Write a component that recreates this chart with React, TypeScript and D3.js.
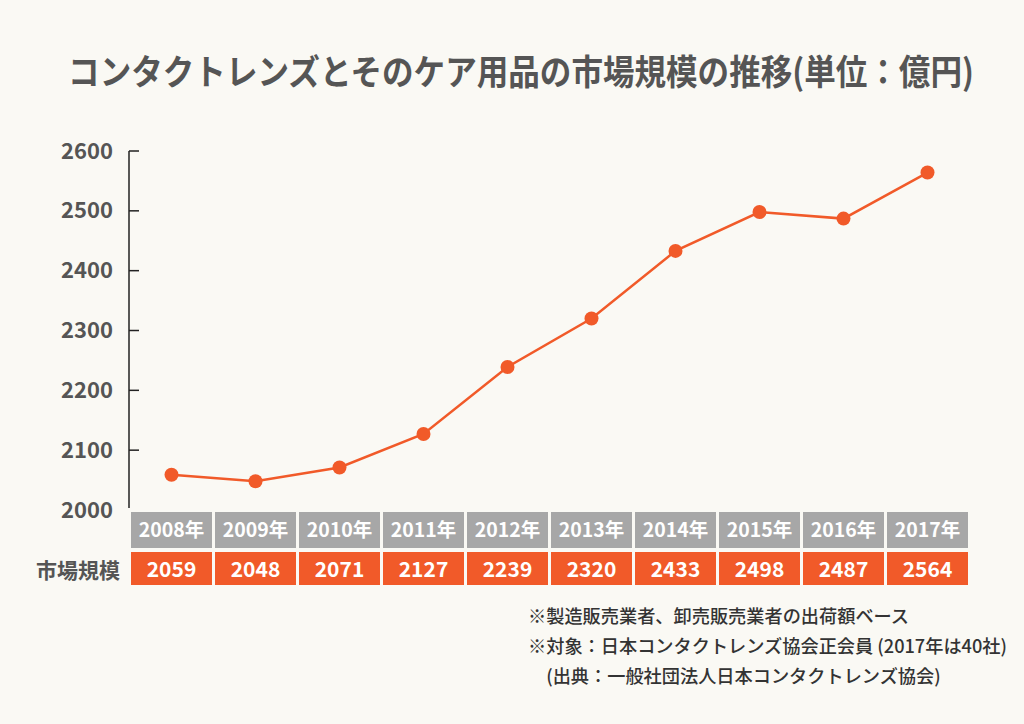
import React, { useEffect, useRef, useState } from "react";
import * as d3 from "d3";

const years = ["2008年", "2009年", "2010年", "2011年", "2012年", "2013年", "2014年", "2015年", "2016年", "2017年"];
const values = [2059, 2048, 2071, 2127, 2239, 2320, 2433, 2498, 2487, 2564];
const yTicks = [2000, 2100, 2200, 2300, 2400, 2500, 2600];
const title = "コンタクトレンズとそのケア用品の市場規模の推移(単位：億円)";
const rowLabel = "市場規模";
const notes = [
  "※製造販売業者、卸売販売業者の出荷額ベース",
  "※対象：日本コンタクトレンズ協会正会員 (2017年は40社)",
  "　(出典：一般社団法人日本コンタクトレンズ協会)",
];

const W = 1024, H = 724;
const FONT = "'Noto Sans CJK JP', 'Noto Sans', sans-serif";
const ORANGE = "#F15A29";
const GRAY = "#A7A7A7";
const TEXT = "#555555";

export default function App() {
  const titleRef = useRef<SVGTextElement>(null);
  const [sx, setSx] = useState(0.87);
  useEffect(() => {
    if (titleRef.current) {
      const w = titleRef.current.getComputedTextLength();
      if (w > 0) setSx(906 / w);
    }
  }, []);
  const x = d3.scaleBand<string>().domain(years).range([131, 971]).paddingInner(0).paddingOuter(0);
  const y = d3.scaleLinear().domain([2000, 2600]).range([510, 151]);
  const cx = (i: number) => (x(years[i]) as number) + x.bandwidth() / 2 - 1.5;
  const line = d3.line<number>().x((_, i) => cx(i)).y((d) => y(d));
  const cw = x.bandwidth() - 3;
  return (
    <svg width={W} height={H} style={{ position: "absolute", left: 0, top: 0, background: "#FAF9F4" }} fontFamily={FONT}>
      <rect x={0} y={0} width={W} height={H} fill="#FAF9F4" />
      <text ref={titleRef} transform={`translate(521,85) scale(${sx},1)`} textAnchor="middle" fontSize={35} fontWeight={700} fill={TEXT}>{title}</text>
      <line x1={129} x2={129} y1={y(2600)} y2={508} stroke="#222" strokeWidth={1.5} />
      {yTicks.map((t) => (
        <g key={t}>
          {t > 2000 && <line x1={129} x2={139} y1={y(t)} y2={y(t)} stroke="#222" strokeWidth={1.5} />}
          <text x={113} y={y(t) + 7.5} textAnchor="end" fontSize={22} fontWeight={700} fill={TEXT}>{t}</text>
        </g>
      ))}
      <path d={line(values) || ""} fill="none" stroke={ORANGE} strokeWidth={2.5} />
      {values.map((v, i) => (
        <circle key={i} cx={cx(i)} cy={y(v)} r={7} fill={ORANGE} />
      ))}
      {years.map((yr, i) => (
        <g key={yr}>
          <rect x={x(yr) as number} y={512} width={cw} height={36} fill={GRAY} />
          <text x={(x(yr) as number) + cw / 2} y={537} textAnchor="middle" fontSize={19.5} fontWeight={700} fill="#fff">{yr}</text>
          <rect x={x(yr) as number} y={552} width={cw} height={33} fill={ORANGE} />
          <text x={(x(yr) as number) + cw / 2} y={577} textAnchor="middle" fontSize={21} fontWeight={700} fill="#fff">{values[i]}</text>
        </g>
      ))}
      <text x={120} y={578} textAnchor="end" fontSize={21} fontWeight={700} fill={TEXT}>{rowLabel}</text>
      {notes.map((n, i) => (
        <text key={i} x={528} y={623 + i * 30} fontSize={18.2} fontWeight={500} fill="#333">{n}</text>
      ))}
    </svg>
  );
}
